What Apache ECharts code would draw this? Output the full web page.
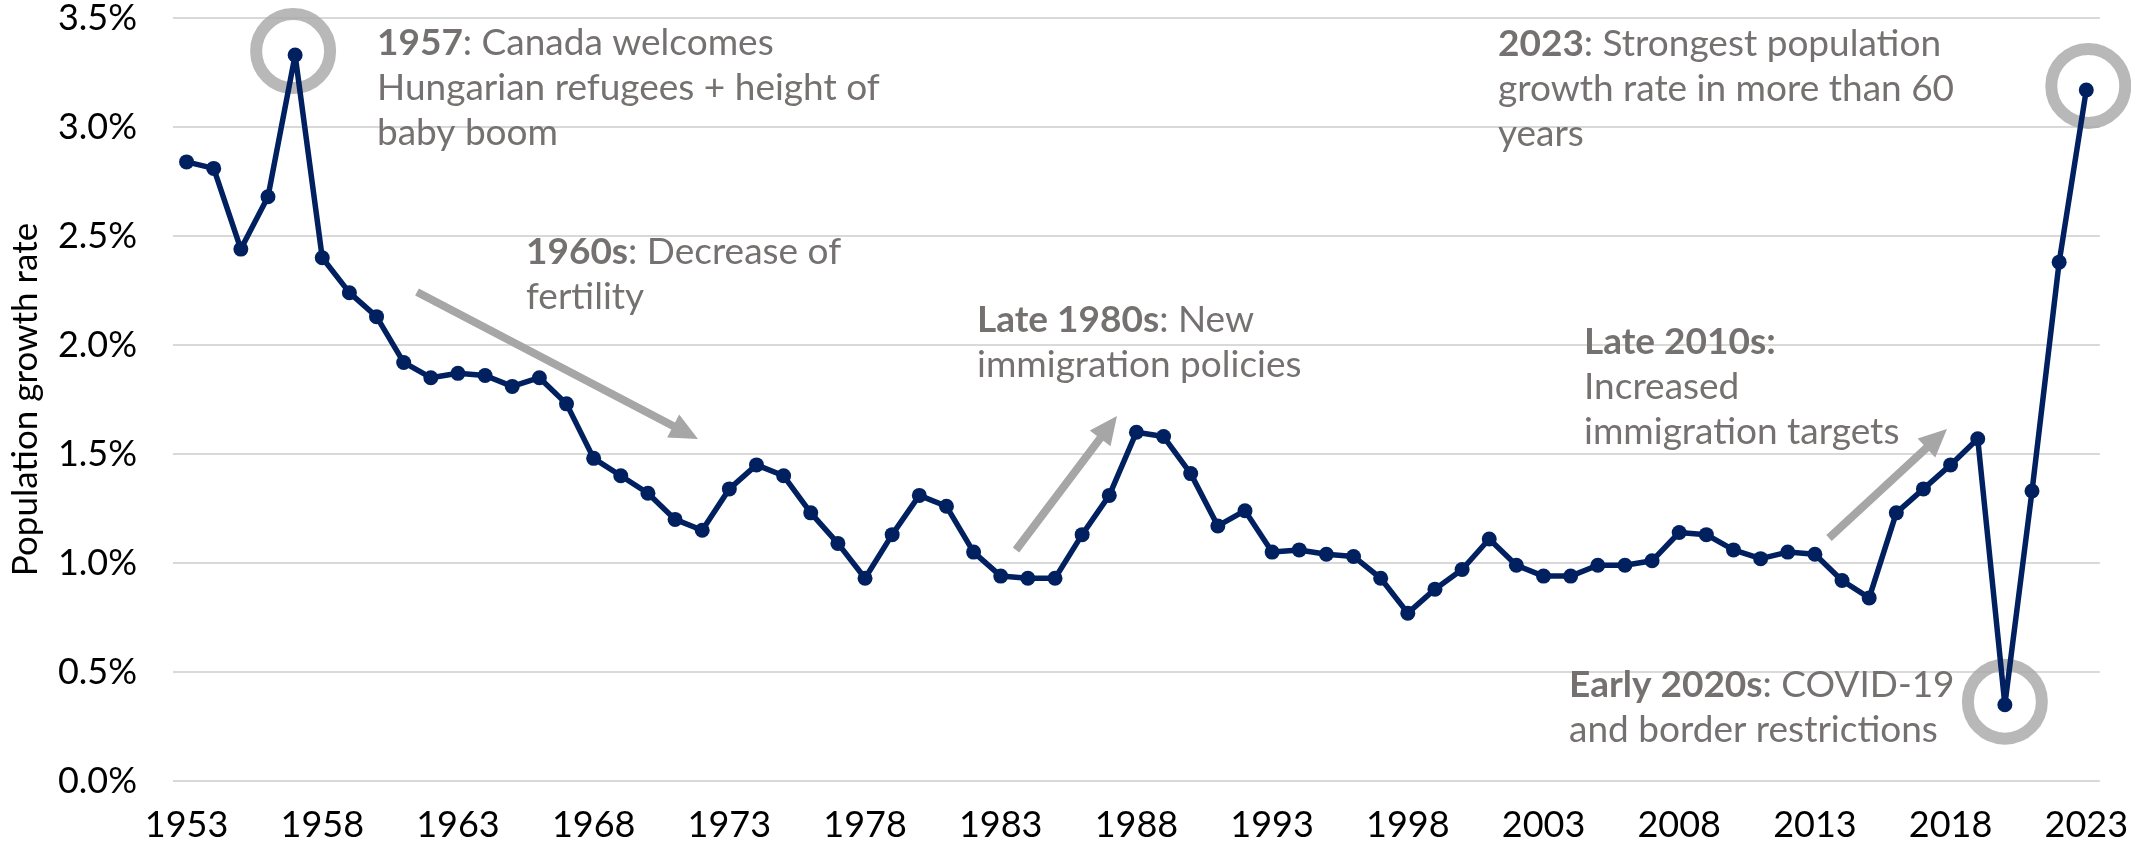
<!DOCTYPE html>
<html>
<head>
<meta charset="utf-8">
<script src="https://cdn.jsdelivr.net/npm/echarts@6/dist/echarts.min.js"></script>
<style>
html,body{margin:0;padding:0;background:#fff;}
#chart{width:2131px;height:846px;}
</style>
</head>
<body>
<div id="chart"></div>
<script>
const years = ['1953','1954','1955','1956','1957','1958','1959','1960','1961','1962','1963','1964','1965','1966','1967','1968','1969','1970','1971','1972','1973','1974','1975','1976','1977','1978','1979','1980','1981','1982','1983','1984','1985','1986','1987','1988','1989','1990','1991','1992','1993','1994','1995','1996','1997','1998','1999','2000','2001','2002','2003','2004','2005','2006','2007','2008','2009','2010','2011','2012','2013','2014','2015','2016','2017','2018','2019','2020','2021','2022','2023'];
const growthRate = [2.84,2.81,2.44,2.68,3.33,2.40,2.24,2.13,1.92,1.85,1.87,1.86,1.81,1.85,1.73,1.48,1.40,1.32,1.20,1.15,1.34,1.45,1.40,1.23,1.09,0.93,1.13,1.31,1.26,1.05,0.94,0.93,0.93,1.13,1.31,1.60,1.58,1.41,1.17,1.24,1.05,1.06,1.04,1.03,0.93,0.77,0.88,0.97,1.11,0.99,0.94,0.94,0.99,0.99,1.01,1.14,1.13,1.06,1.02,1.05,1.04,0.92,0.84,1.23,1.34,1.45,1.57,0.35,1.33,2.38,3.17];
const yTicks = {min: 0, max: 3.5, interval: 0.5};
const highlightYears = ['1957','2020','2023'];
const yAxisTitle = 'Population growth rate';

const GREY_TXT = '#767171';
const ARROW = '#a6a6a6';
const NAVY = '#002060';
const FONT = 'Lato';
const NOTE_SIZE = 37;

function arrow(x1,y1,x2,y2){
  const w=8, hl=28, hw=26;
  const L=Math.hypot(x2-x1,y2-y1), dx=(x2-x1)/L, dy=(y2-y1)/L;
  const px=-dy, py=dx;
  const bx=x2-dx*hl, by=y2-dy*hl;
  return {type:'polygon', silent:true, z:50,
    shape:{points:[[x1+px*w/2,y1+py*w/2],[bx+px*w/2,by+py*w/2],[bx+px*hw/2,by+py*hw/2],[x2,y2],[bx-px*hw/2,by-py*hw/2],[bx-px*w/2,by-py*w/2],[x1-px*w/2,y1-py*w/2]]},
    style:{fill:ARROW}};
}
const rich = {
  b:{fontFamily:FONT,fontWeight:'bold',fontSize:NOTE_SIZE,lineHeight:45,fill:GREY_TXT,color:GREY_TXT},
  n:{fontFamily:FONT,fontSize:NOTE_SIZE,lineHeight:45,fill:GREY_TXT,color:GREY_TXT}
};
function note(x,y,text){
  return {type:'text', left:x, top:y, silent:true, z:60,
    style:{text:text, rich:rich, font:NOTE_SIZE+'px Lato', fill:GREY_TXT, lineHeight:45}};
}

const circleOffsets = {'1957':[-2,-4],'2020':[0,-3],'2023':[2,-4]};

const chart = echarts.init(document.getElementById('chart'), null, {renderer:'canvas'});
chart.setOption({
  animation:false,
  backgroundColor:'#fff',
  grid:{left:166,right:31,top:18,bottom:65,containLabel:false},
  xAxis:{type:'category',data:years,boundaryGap:true,
    axisLine:{show:false},axisTick:{show:false},
    axisLabel:{interval:4,margin:26,fontFamily:FONT,fontSize:36,color:'#000'},
    splitLine:{show:false}},
  yAxis:{type:'value',min:yTicks.min,max:yTicks.max,interval:yTicks.interval,
    name:yAxisTitle,nameLocation:'middle',nameGap:130,
    nameTextStyle:{fontFamily:FONT,fontSize:35,color:'#000'},
    axisLine:{show:false},axisTick:{show:false},
    axisLabel:{margin:36,fontFamily:FONT,fontSize:36,color:'#000',formatter:v=>v.toFixed(1)+'%'},
    splitLine:{lineStyle:{color:'#d9d9d9',width:2}}},
  series:[
    {type:'scatter',z:1,silent:true,
      data:highlightYears.map(y=>({value:[y,growthRate[years.indexOf(y)]],symbolOffset:circleOffsets[y]})),
      symbol:'circle',symbolSize:74,
      itemStyle:{color:'rgba(0,0,0,0)',borderColor:'#a6a6a6',borderWidth:12}},
    {type:'line',z:3,data:growthRate,symbol:'circle',symbolSize:15,showSymbol:true,
      lineStyle:{color:NAVY,width:5.5},itemStyle:{color:NAVY}}
  ],
  graphic:[
    arrow(417,292,698,439),
    arrow(1016,550,1117,416),
    arrow(1829,538,1947,429),
    note(377,21,'{b|1957}{n|: Canada welcomes}\n{n|Hungarian refugees + height of}\n{n|baby boom}'),
    note(526,230,'{b|1960s}{n|: Decrease of}\n{n|fertility}'),
    note(977,298,'{b|Late 1980s}{n|: New}\n{n|immigration policies}'),
    note(1498,22,'{b|2023}{n|: Strongest population}\n{n|growth rate in more than 60}\n{n|years}'),
    note(1584,320,'{b|Late 2010s:}\n{n|Increased}\n{n|immigration targets}'),
    note(1569,663,'{b|Early 2020s}{n|: COVID-19}\n{n|and border restrictions}')
  ]
});
</script>
</body>
</html>
